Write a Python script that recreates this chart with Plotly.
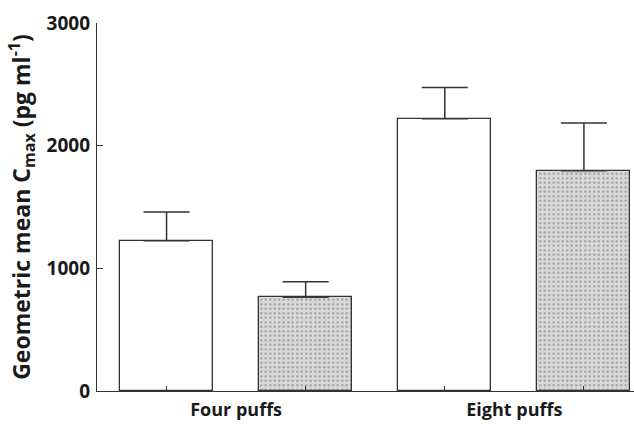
import plotly.graph_objects as go

groups = ["Four puffs", "Eight puffs"]
series_a = [1225, 2220]        # open bars
series_a_err = [235, 255]      # upper error
series_b = [765, 1795]         # dotted bars
series_b_err = [125, 390]
y_ticks = [0, 1000, 2000, 3000]

pos_a = [2 * i for i in range(len(groups))]
pos_b = [2 * i + 1 for i in range(len(groups))]
group_centers = [2 * i + 0.5 for i in range(len(groups))]

axis_col = "#333333"
font_fam = "Open Sans"

fig = go.Figure()
fig.add_trace(go.Bar(
    x=pos_a, y=series_a, width=0.668,
    marker=dict(color="white", line=dict(color=axis_col, width=1.3)),
    error_y=dict(type="data", array=series_a_err, symmetric=False, arrayminus=[0, 0],
                 color=axis_col, thickness=1.5, width=23),
    showlegend=False,
))
fig.add_trace(go.Bar(
    x=pos_b, y=series_b, width=0.668,
    marker=dict(color="#d9d9d9", line=dict(color=axis_col, width=1.3),
                pattern=dict(shape=".", fgcolor="#5e5e5e", bgcolor="#d9d9d9",
                             size=4.5, solidity=0.22, fillmode="overlay")),
    error_y=dict(type="data", array=series_b_err, symmetric=False, arrayminus=[0, 0],
                 color=axis_col, thickness=1.5, width=23),
    showlegend=False,
))
# invisible trace for the label axis
fig.add_trace(go.Scatter(x=group_centers, y=[0, 0], xaxis="x2", mode="markers",
                         marker=dict(opacity=0), showlegend=False, hoverinfo="skip"))

rng = [-0.5, 3.36]
fig.update_layout(
    width=634, height=425,
    margin=dict(l=97, r=0, t=23, b=34, autoexpand=False),
    paper_bgcolor="white", plot_bgcolor="white",
    font=dict(family=font_fam, size=18, color="#1a1a1a"),
    xaxis=dict(range=rng, tickvals=pos_a + pos_b, showticklabels=False,
               ticks="inside", ticklen=5, tickwidth=1, tickcolor=axis_col,
               showline=True, linecolor=axis_col, linewidth=1.3,
               showgrid=False, zeroline=False, automargin=False),
    xaxis2=dict(range=rng, overlaying="x", anchor="y", side="bottom",
                tickvals=group_centers, ticktext=groups, ticks="",
                showline=False, showgrid=False, zeroline=False, automargin=False,
                ticklabelstandoff=6,
                tickfont=dict(family=font_fam, size=18, color="#1a1a1a", weight="bold")),
    yaxis=dict(range=[0, 3000], tickvals=y_ticks, ticks="inside", ticklen=6,
               tickwidth=1, tickcolor=axis_col, showline=True, linecolor=axis_col,
               linewidth=1.3, showgrid=False, zeroline=False, automargin=False,
               ticklabelstandoff=2,
               tickfont=dict(family=font_fam, size=19, color="#1a1a1a", weight="bold"),
               title=dict(text="Geometric mean C<sub>max</sub> (pg ml<sup>-1</sup>)",
                          font=dict(family=font_fam, size=23, color="#1a1a1a", weight="bold"),
                          standoff=9)),
    bargap=0,
)
fig.write_html("out.html", config={"displayModeBar": False})

# remove the browser's default body margin so the figure sits at the page origin
with open("out.html", encoding="utf-8") as f:
    html = f.read()
html = html.replace("<body>", '<body style="margin:0;padding:0;overflow:hidden">', 1)
with open("out.html", "w", encoding="utf-8") as f:
    f.write(html)
